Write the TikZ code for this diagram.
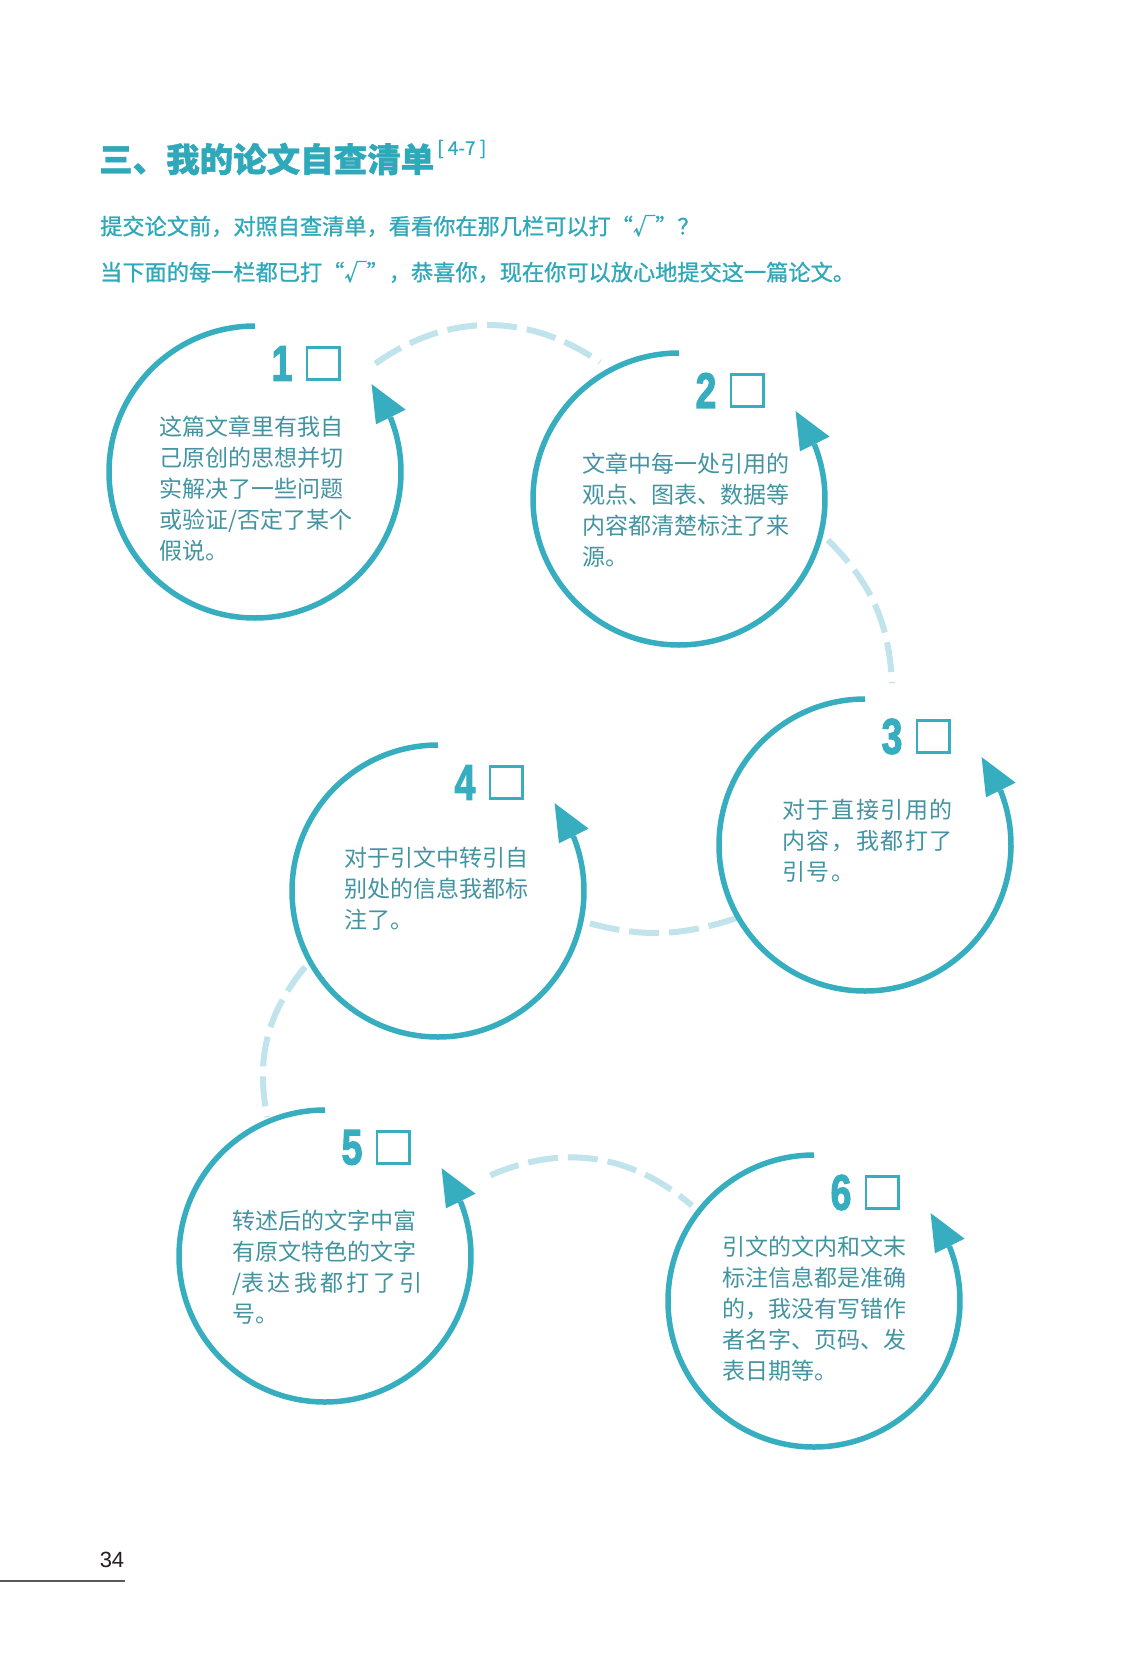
\documentclass[tikz,border=0pt]{standalone}
\usepackage{fontspec}
\setmainfont{Liberation Sans}
\newfontfamily\cjk{Noto Sans CJK SC}
\newfontfamily\numfont{Liberation Sans}
\usetikzlibrary{calc}
\definecolor{ringcol}{RGB}{55,174,192}
\definecolor{titlecol}{RGB}{47,168,186}
\definecolor{txtcol}{RGB}{66,148,160}
\definecolor{dashcol}{RGB}{192,227,236}
\definecolor{pagecol}{RGB}{35,31,32}
\tikzset{
  ring/.style={draw=ringcol, line width=5.5pt},
  conn/.style={draw=dashcol, line width=6pt, dash pattern=on 30pt off 10pt},
  numst/.style={font={\numfont\bfseries\fontsize{50}{50}\selectfont\addfontfeature{FakeBold=2.5}}, text=ringcol, inner sep=0pt},
  boxst/.style={draw=ringcol, line width=2.7pt, minimum size=32.3pt, inner sep=0pt},
  txt/.style={font={\cjk\fontsize{23}{31}\selectfont}, text=txtcol, align=left, inner sep=0pt, anchor=west},
  txtsp/.style={txt, font={\cjk\fontsize{23}{31}\selectfont\addfontfeature{LetterSpace=7}}},
  titlest/.style={font={\cjk\bfseries\fontsize{33.5}{34}\selectfont\addfontfeature{FakeBold=1.2}}, text=titlecol, inner sep=0pt, anchor=west},
  supst/.style={font={\cjk\fontsize{19}{19}\selectfont\addfontfeature{FakeBold=0.5}}, text=titlecol, inner sep=0pt, anchor=west},
  subst/.style={font={\cjk\fontsize{22.2}{23}\selectfont\addfontfeature{FakeBold=1}}, text=titlecol, inner sep=0pt, anchor=west},
}
\newcommand\ringarrow[1]{%
  \draw[ring] ([shift={(90:146)}]#1) arc[start angle=90,end angle=382,radius=146];
  \fill[ringcol] ([shift={(37:146)}]#1) -- ([shift={(21.5:130)}]#1) -- ([shift={(22.5:163)}]#1) -- cycle;
}
\newcommand\numbox[2]{%
  \node[numst] (n#1) at ([shift={(27,108.5)}]#2) {\scalebox{0.75}[1]{#1}};
  \node[boxst] (b#1) at ([shift={(68,108.5)}]#2) {};
}
\begin{document}
\begin{tikzpicture}[x=1pt,y=1pt]
\fill[white] (0,0) rectangle (1126,-1661);
\useasboundingbox (0,0) rectangle (1126,-1661);

% title
\node[titlest] (title) at (99,-159) {三、我的论文自查清单};
\node[supst] (sup) at (437,-149) {[ 4-7 ]};
\node[subst] (sub1) at (100,-226) {提交论文前，对照自查清单，看看你在那几栏可以打“√”？};
\node[subst] (sub2) at (100,-272) {当下面的每一栏都已打“√”，恭喜你，现在你可以放心地提交这一篇论文。};

% centres
\coordinate (c1) at (255,-472);
\coordinate (c2) at (679,-499);
\coordinate (c3) at (865,-845);
\coordinate (c4) at (438,-891);
\coordinate (c5) at (325,-1256);
\coordinate (c6) at (814,-1301);

% dashed connectors
\coordinate (d1a) at ([shift={(42:162)}]c1);
\coordinate (d1b) at ([shift={(120:158)}]c2);
\coordinate (d2a) at ([shift={(-15.4:154.5)}]c2);
\coordinate (d2b) at ([shift={(80.5:164)}]c3);
\coordinate (d3a) at ([shift={(209.7:147)}]c3);
\coordinate (d3b) at ([shift={(-11.7:143)}]c4);
\coordinate (d4a) at ([shift={(209.7:153)}]c4);
\coordinate (d4b) at ([shift={(112.6:150.6)}]c5);
\coordinate (d5a) at ([shift={(26:184)}]c5);
\coordinate (d5b) at ([shift={(142:155)}]c6);
\draw[conn] (d1a) to[bend left=35] (d1b);
\draw[conn] (d2a) to[bend left=21] (d2b);
\draw[conn] (d3a) to[bend left=17.5] (d3b);
\draw[conn] (d4a) to[bend right=25] (d4b);
\draw[conn] (d5a) to[bend left=32] (d5b);

% rings
\ringarrow{c1}
\ringarrow{c2}
\ringarrow{c3}
\ringarrow{c4}
\ringarrow{c5}
\ringarrow{c6}

\numbox{1}{c1}
\numbox{2}{c2}
\numbox{3}{c3}
\numbox{4}{c4}
\numbox{5}{c5}
\numbox{6}{c6}

% texts
\node[txt] (t1) at ([shift={(-96,-17)}]c1) {这篇文章里有我自\\己原创的思想并切\\实解决了一些问题\\或验证/否定了某个\\假说。};
\node[txt] (t2) at ([shift={(-97,-11)}]c2) {文章中每一处引用的\\观点、图表、数据等\\内容都清楚标注了来\\源。};
\node[txtsp] (t3) at ([shift={(-83,4)}]c3) {对于直接引用的\\内容，我都打了\\引号。};
\node[txt] (t4) at ([shift={(-94,2)}]c4) {对于引文中转引自\\别处的信息我都标\\注了。};
\node[txt] (t5) at ([shift={(-93,-11.5)}]c5) {转述后的文字中富\\有原文特色的文字\\\makebox[8em][s]{/表 达 我 都 打 了 引}\\号。};
\node[txt] (t6) at ([shift={(-92,-7.5)}]c6) {引文的文内和文末\\标注信息都是准确\\的，我没有写错作\\者名字、页码、发\\表日期等。};

% page number
\node[font={\fontsize{22}{22}\selectfont}, text=pagecol, inner sep=0pt] (pg) at (112,-1560) {34};
\coordinate (r0) at (0,-1581);
\coordinate (r1) at (125,-1581);
\draw[line width=1.2pt, draw=black!65] (r0) -- (r1);
\end{tikzpicture}
\end{document}
